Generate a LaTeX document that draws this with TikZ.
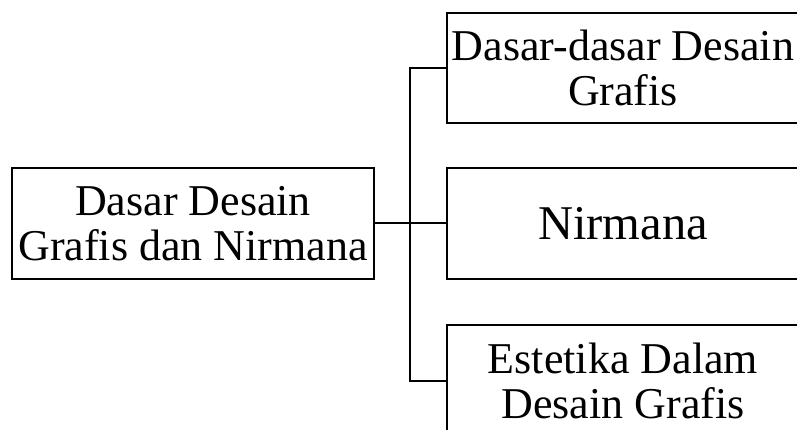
\documentclass[tikz,border=0pt]{standalone}
\usepackage{fontspec}
\setmainfont{Liberation Serif}
\begin{document}
\begin{tikzpicture}[x=1pt,y=-1pt,
  topic/.style={draw=black,line width=2pt,fill=white,inner sep=0pt,
    align=center,font=\fontsize{44}{45}\selectfont},
  link/.style={draw=black,line width=2pt}]
\useasboundingbox (0,0) rectangle (797,430);
\clip (0,0) rectangle (797,430);
% root box on the left
\node[topic,minimum width=362pt,minimum height=111pt] (root) at (193,223.5)
  {Dasar Desain\\Grafis dan Nirmana};
% three child boxes on the right (they run past the right and bottom edges)
\node[topic,minimum width=352pt,minimum height=110pt] (dasar) at (623,68)
  {Dasar-dasar Desain\\Grafis};
\node[topic,minimum width=352pt,minimum height=111pt,
  font=\fontsize{48.5}{50}\selectfont] (nirmana) at (623,223.5)
  {Nirmana};
\node[topic,minimum width=352pt,minimum height=111pt] (estetika) at (623,380.5)
  {Estetika Dalam\\Desain Grafis};
% trunk junction
\coordinate (trunk) at (410,223.5);
\draw[link] (root.east) -- (nirmana.west);
\draw[link] (dasar.west) -| (trunk) |- (estetika.west);
\end{tikzpicture}
\end{document}
